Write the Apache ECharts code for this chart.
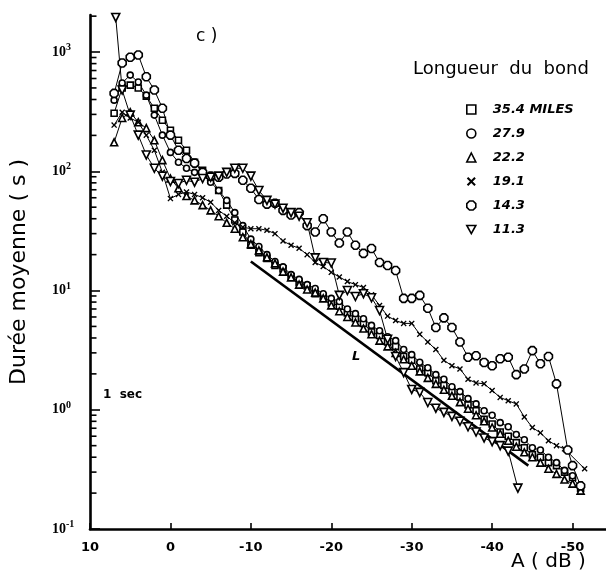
<!DOCTYPE html>
<html>
<head>
<meta charset="utf-8">
<script src="https://cdn.jsdelivr.net/npm/echarts@6/dist/echarts.min.js"></script>
<style>
  html, body { margin: 0; padding: 0; background: #fff; }
  #chart { width: 606px; height: 579px; }
</style>
</head>
<body>
<div id="chart"></div>
<script>
// Mean fade duration (s) versus attenuation A (dB), one list of [A, duration] per hop length.
const hop354 = [[7,307],[6,500],[5,528],[4,500],[3,427],[2,338],[1,268],[0,221],[-1,182],[-2,150],[-3,119],[-4,102],[-5,89],[-6,69],[-7,52],[-8,39],[-9,31],[-10,24],[-11,20.8],[-12,18.6],[-13,16.2],[-14,15.2],[-15,13.1],[-16,11.7],[-17,10.9],[-18,9.4],[-19,8.9],[-20,7.9],[-21,7.4],[-22,6.5],[-23,5.8],[-24,5.3],[-25,4.5],[-26,4.2],[-27,3.7],[-28,3.4],[-29,2.8],[-30,2.6],[-31,2.2],[-32,2.05],[-33,1.75],[-34,1.6],[-35,1.42],[-36,1.28],[-37,1.1],[-38,0.98],[-39,0.83],[-40,0.76],[-41,0.65],[-42,0.6],[-43,0.53],[-44,0.48],[-45,0.42],[-46,0.4],[-47,0.36],[-48,0.34],[-49,0.3],[-50,0.27],[-51,0.22]];
const hop279 = [[7,395],[6,550],[5,641],[4,560],[3,435],[2,296],[1,201],[0,144],[-1,119],[-2,106],[-3,98],[-4,93],[-5,81],[-6,69],[-7,57],[-8,45],[-9,35],[-10,27],[-11,23.4],[-12,20],[-13,17.5],[-14,15.8],[-15,13.6],[-16,12.4],[-17,11.2],[-18,10.4],[-19,9.4],[-20,8.6],[-21,8.1],[-22,7.0],[-23,6.4],[-24,5.8],[-25,5.1],[-26,4.6],[-27,4.1],[-28,3.8],[-29,3.2],[-30,2.9],[-31,2.5],[-32,2.25],[-33,1.97],[-34,1.8],[-35,1.56],[-36,1.42],[-37,1.24],[-38,1.12],[-39,0.98],[-40,0.9],[-41,0.78],[-42,0.72],[-43,0.62],[-44,0.56],[-45,0.48],[-46,0.46],[-47,0.4],[-48,0.36],[-49,0.31],[-50,0.28]];
const hop222 = [[7,175],[6,280],[5,313],[4,258],[3,230],[2,182],[1,124],[0,87],[-1,72],[-2,62],[-3,57],[-4,52],[-5,47],[-6,42],[-7,37],[-8,33],[-9,28],[-10,24.5],[-11,21.7],[-12,19],[-13,16.9],[-14,14.4],[-15,12.9],[-16,11.2],[-17,10.2],[-18,9.6],[-19,8.6],[-20,7.5],[-21,6.7],[-22,6.0],[-23,5.4],[-24,4.8],[-25,4.3],[-26,3.8],[-27,3.4],[-28,3.0],[-29,2.65],[-30,2.34],[-31,2.1],[-32,1.85],[-33,1.65],[-34,1.47],[-35,1.31],[-36,1.16],[-37,1.02],[-38,0.9],[-39,0.8],[-40,0.71],[-41,0.63],[-42,0.55],[-43,0.49],[-44,0.44],[-45,0.4],[-46,0.36],[-47,0.32],[-48,0.29],[-49,0.26],[-50,0.24],[-51,0.21]];
const hop191 = [[7,244],[6,313],[5,280],[4,258],[3,201],[2,150],[1,98],[0,59],[-1,64],[-2,67],[-3,64],[-4,60],[-5,55],[-6,47],[-7,42],[-8,37],[-9,34],[-10,33],[-11,33],[-12,32],[-13,30],[-14,26],[-15,24],[-16,22.6],[-17,20],[-18,17.2],[-19,15.9],[-20,14.2],[-21,13],[-22,11.9],[-23,11.2],[-24,10.6],[-25,9.2],[-26,7.5],[-27,6.1],[-28,5.6],[-29,5.3],[-30,5.3],[-31,4.3],[-32,3.7],[-33,3.2],[-34,2.6],[-35,2.34],[-36,2.2],[-37,1.8],[-38,1.68],[-39,1.65],[-40,1.45],[-41,1.27],[-42,1.19],[-43,1.12],[-44,0.87],[-45,0.71],[-46,0.64],[-47,0.55],[-48,0.5],[-49,0.47],[-51.5,0.32]];
const hop143 = [[7,450],[6,810],[5,905],[4,945],[3,620],[2,480],[1,338],[0,201],[-1,150],[-2,128],[-3,117],[-4,98],[-5,91],[-6,89],[-7,95],[-8,96],[-9,84],[-10,72],[-11,58],[-12,53],[-13,54],[-14,47],[-15,43],[-16,45],[-17,35],[-18,31],[-19,40],[-20,31],[-21,25],[-22,31],[-23,24],[-24,20.5],[-25,22.5],[-26,17.2],[-27,16.2],[-28,14.7],[-29,8.6],[-30,8.6],[-31,9.1],[-32,7.1],[-33,4.9],[-34,5.9],[-35,4.9],[-36,3.7],[-37,2.76],[-38,2.84],[-39,2.49],[-40,2.34],[-41,2.68],[-42,2.76],[-43,1.97],[-44,2.2],[-45,3.13],[-46,2.43],[-47,2.8],[-48,1.65],[-49.4,0.46],[-50,0.34],[-51,0.23]];
const hop113 = [[6.8,1950],[6,480],[5,296],[4,201],[3,137],[2,106],[1,91],[0,82],[-1,79],[-2,84],[-3,81],[-4,87],[-5,89],[-6,91],[-7,98],[-8,106],[-9,106],[-10,91],[-11,69],[-12,57],[-13,53],[-14,49],[-15,45],[-16,42],[-17,37],[-18,18.8],[-19,17.2],[-20,17],[-21,9.1],[-22,10],[-23,8.9],[-24,9.4],[-25,8.7],[-26,6.8],[-27,3.9],[-28,2.8],[-29,2.05],[-30,1.48],[-31,1.4],[-32,1.15],[-33,1.03],[-34,0.95],[-35,0.88],[-36,0.8],[-37,0.72],[-38,0.65],[-39,0.58],[-40,0.54],[-41,0.5],[-42,0.45],[-43.2,0.22]];
// Reference slope line "L"
const lineL = [[-10,17.5],[-44.5,0.34]];

const hopNames = ['35.4 MILES', '27.9', '22.2', '19.1', '14.3', '11.3'];
const xTicks = [10, 0, -10, -20, -30, -40, -50];

// marker shapes
const SYM_CROSS = 'path://M0,1.6L1.6,0L5,3.4L8.4,0L10,1.6L6.6,5L10,8.4L8.4,10L5,6.6L1.6,10L0,8.4L3.4,5Z';
const SYM_OCT = 'path://M3,0L7,0L10,3L10,7L7,10L3,10L0,7L0,3Z';
const SYM_DOWN = 'path://M0,0L10,0L5,9Z';

const styles = [
  { data: hop354, symbol: 'rect', size: 6 },
  { data: hop279, symbol: 'circle', size: 6 },
  { data: hop222, symbol: 'triangle', size: 7 },
  { data: hop191, symbol: SYM_CROSS, size: 6 },
  { data: hop143, symbol: SYM_OCT, size: 8 },
  { data: hop113, symbol: SYM_DOWN, size: 8 }
];
styles[3].filled = true;

// minor log ticks along the duration axis
const minorTickValues = [];
for (let e = -1; e <= 3; e++) {
  for (let k = 2; k <= 9; k++) {
    const v = k * Math.pow(10, e);
    if (v < 2045) minorTickValues.push(v);
  }
}

const FONT = '"DejaVu Sans", sans-serif';

const series = styles.map((s, i) => ({
  name: hopNames[i],
  type: 'line',
  data: s.data,
  symbol: s.symbol,
  symbolSize: s.size,
  showSymbol: true,
  lineStyle: { color: '#000', width: 1 },
  itemStyle: s.filled
    ? { color: '#000', borderWidth: 0 }
    : { color: '#fff', borderColor: '#000', borderWidth: 1.6 },
  animation: false,
  z: 3
}));

series.push({
  name: 'L',
  type: 'line',
  data: lineL,
  symbol: 'none',
  lineStyle: { color: '#000', width: 2.6 },
  animation: false,
  z: 2
});

series.push({
  name: 'minorTicks',
  type: 'custom',
  silent: true,
  animation: false,
  data: minorTickValues.map(v => [10, v]),
  renderItem: (params, api) => {
    const p = api.coord([api.value(0), api.value(1)]);
    return {
      type: 'line',
      shape: { x1: p[0], y1: p[1], x2: p[0] + 6.5, y2: p[1] },
      style: { stroke: '#000', lineWidth: 1.6 }
    };
  },
  z: 5
});

const legendData = styles.map((s, i) => ({
  name: hopNames[i],
  icon: s.symbol,
  itemStyle: s.filled
    ? { color: '#000', borderWidth: 0 }
    : { color: '#fff', borderColor: '#000', borderWidth: 1.6 }
}));

const option = {
  backgroundColor: '#fff',
  animation: false,
  // 10 dB sits on the left edge; the axis runs past the right edge of the page
  grid: { left: 90, width: 563, top: 15, height: 514, outerBoundsMode: 'none', containLabel: false },
  xAxis: {
    type: 'value',
    inverse: true,
    min: -60,
    max: 10,
    interval: 10,
    axisLine: { onZero: false, lineStyle: { color: '#000', width: 2.6 } },
    axisTick: { inside: true, length: 6, lineStyle: { color: '#000', width: 1.6 } },
    axisLabel: {
      margin: 12,
      color: '#000',
      fontFamily: FONT,
      fontWeight: 'bold',
      fontSize: 13,
      formatter: v => (xTicks.indexOf(v) >= 0 ? String(v) : '')
    },
    splitLine: { show: false }
  },
  yAxis: {
    type: 'log',
    logBase: 10,
    min: 0.1,
    max: 2045,
    name: 'Durée moyenne ( s )',
    nameLocation: 'middle',
    nameGap: 60,
    nameRotate: 90,
    nameTextStyle: { fontFamily: FONT, fontSize: 22, color: '#000' },
    axisLine: { onZero: false, lineStyle: { color: '#000', width: 2.6 } },
    axisTick: { inside: true, length: 10, lineStyle: { color: '#000', width: 1.6 } },
    axisLabel: {
      showMaxLabel: false,
      align: 'left',
      margin: 38,
      formatter: v => {
        const e = Math.round(Math.log10(v));
        if (Math.abs(Math.pow(10, e) - v) > 1e-6 * v) return '';
        return '{b|10}{s|' + e + '}';
      },
      rich: {
        b: { fontFamily: '"Liberation Serif", serif', fontWeight: 'bold', fontSize: 14, color: '#000' },
        s: { fontFamily: '"Liberation Serif", serif', fontWeight: 'bold', fontSize: 10, color: '#000', verticalAlign: 'bottom', padding: [0, 0, 9, 0] }
      }
    },
    splitLine: { show: false }
  },
  legend: {
    data: legendData,
    orient: 'vertical',
    left: 461,
    top: 98,
    itemWidth: 9,
    itemHeight: 9,
    itemGap: 11,
    selectedMode: false,
    textStyle: {
      fontFamily: FONT,
      fontStyle: 'italic',
      fontWeight: 'bold',
      fontSize: 13,
      color: '#000',
      padding: [0, 0, 0, 12]
    }
  },
  graphic: [
    { type: 'text', left: 196, top: 28, style: { text: 'c )', font: '17px ' + FONT, fill: '#000' } },
    { type: 'text', left: 413, top: 60, style: { text: 'Longueur  du  bond', font: '18px ' + FONT, fill: '#000' } },
    { type: 'text', left: 103, top: 389, style: { text: '1  sec', font: 'bold 12px ' + FONT, fill: '#000' } },
    { type: 'text', left: 352, top: 350, style: { text: 'L', font: 'italic bold 13px ' + FONT, fill: '#000' } },
    { type: 'text', left: 511, top: 552, style: { text: 'A ( dB )', font: '20px ' + FONT, fill: '#000' } }
  ],
  series: series
};

const chart = echarts.init(document.getElementById('chart'), null, { renderer: 'canvas' });
chart.setOption(option);
</script>
</body>
</html>
